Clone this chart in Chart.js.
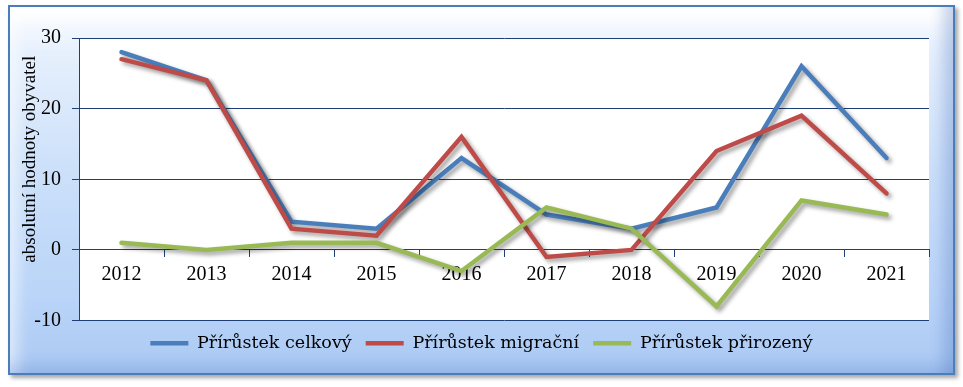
<!DOCTYPE html>
<html>
<head>
<meta charset="utf-8">
<script src="https://cdn.jsdelivr.net/npm/chart.js@4.4.0/dist/chart.umd.min.js"></script>
<style>
  html, body { margin: 0; padding: 0; background: #ffffff; }
  #wrap { position: relative; width: 963px; height: 387px; overflow: hidden; }
  #frame {
    position: absolute; left: 8px; top: 5px; width: 943px; height: 366px;
    border: 2px solid #4A7EBB;
    background: linear-gradient(180deg, #FFFFFF 0%, #E6F0FD 12%, #CCE0FA 45%, #B9D4F8 80%, #ABC9F3 100%);
    box-shadow: 3px 3px 4px rgba(0,0,0,0.35),
                inset -22px 0 14px -12px rgba(70,110,190,0.30),
                inset 0 -20px 14px -12px rgba(70,110,190,0.22),
                inset 20px 0 14px -12px rgba(255,255,255,0.55),
                inset 0 22px 14px -12px rgba(255,255,255,0.7);
  }
  canvas { position: absolute; left: 0; top: 0; }
</style>
</head>
<body>
<div id="wrap">
  <div id="frame"></div>
  <canvas id="c" width="963" height="387"></canvas>
</div>
<script>
const categories = ['2012','2013','2014','2015','2016','2017','2018','2019','2020','2021'];
const celkovy   = [28, 24, 4, 3, 13, 5, 3, 6, 26, 13];
const migracni  = [27, 24, 3, 2, 16, -1, 0, 14, 19, 8];
const prirozeny = [1, 0, 1, 1, -3, 6, 3, -8, 7, 5];
const seriesNames = ['Přírůstek celkový', 'Přírůstek migrační', 'Přírůstek přirozený'];
const yTitle = 'absolutní hodnoty obyvatel';
const yMin = -10, yMax = 30, yStep = 10;

const colors = ['#4A7EBB', '#BE4B48', '#98B954'];
const gridColor = '#1F3F78';

const whiteArea = {
  id: 'whiteArea',
  beforeDraw(chart) {
    const {ctx, chartArea: a} = chart;
    ctx.save();
    ctx.fillStyle = '#ffffff';
    ctx.fillRect(a.left, a.top, a.right - a.left, a.bottom - a.top);
    ctx.restore();
  }
};
const shadow = {
  id: 'shadow',
  beforeDatasetDraw(chart) {
    const ctx = chart.ctx;
    ctx.save();
    ctx.shadowColor = 'rgba(0,0,0,0.38)';
    ctx.shadowBlur = 4;
    ctx.shadowOffsetX = 3;
    ctx.shadowOffsetY = 3;
  },
  afterDatasetDraw(chart) { chart.ctx.restore(); }
};

function ds(label, data, color, order) {
  return {
    label, data, borderColor: color, backgroundColor: color,
    borderWidth: 4.5, pointRadius: 0, pointHoverRadius: 0, tension: 0,
    borderCapStyle: 'round', borderJoinStyle: 'miter', order
  };
}

new Chart(document.getElementById('c'), {
  type: 'line',
  data: {
    labels: categories,
    datasets: [
      ds(seriesNames[0], celkovy, colors[0], 3),
      ds(seriesNames[1], migracni, colors[1], 2),
      ds(seriesNames[2], prirozeny, colors[2], 1)
    ]
  },
  options: {
    responsive: false,
    animation: false,
    events: [],
    layout: { padding: { left: 0, right: 0, top: 38, bottom: 25 } },
    scales: {
      x: {
        type: 'category',
        position: { y: 0 },
        offset: true,
        grid: { display: true, drawOnChartArea: false, drawTicks: true, tickLength: 7, color: gridColor, offset: true },
        border: { display: true, color: gridColor, width: 1 },
        ticks: { color: '#000', padding: 6, maxRotation: 0, font: { family: 'Liberation Serif', size: 20 } }
      },
      y: {
        min: yMin, max: yMax,
        afterFit(scale) {
          scale.width = 79;
          if (!scale._titleShifted) {
            const orig = scale.drawTitle;
            scale.drawTitle = function () {
              const ctx = this.ctx;
              ctx.save();
              ctx.translate(0, -20);
              orig.apply(this, arguments);
              ctx.restore();
            };
            scale._titleShifted = true;
          }
        },
        ticks: { stepSize: yStep, color: '#000', padding: 11, font: { family: 'Liberation Serif', size: 20 } },
        grid: { color: gridColor, tickLength: 7, lineWidth: 1 },
        border: { display: true, color: gridColor, width: 1 },
        title: { display: true, text: yTitle, color: '#000', padding: { top: 19, bottom: 0 }, font: { family: 'Liberation Serif', size: 19 } }
      },
      yRightSpace: {
        type: 'linear',
        position: 'right',
        display: true,
        min: yMin, max: yMax,
        afterFit(scale) { scale.width = 34; },
        ticks: { display: false },
        grid: { display: false, drawTicks: false },
        border: { display: false }
      }
    },
    plugins: {
      legend: {
        position: 'bottom',
        labels: {
          usePointStyle: true,
          pointStyle: 'line',
          pointStyleWidth: 38,
          boxHeight: 4,
          padding: 14,
          color: '#000',
          font: { family: 'DejaVu Serif', size: 17.5 },
          sort: (a, b) => a.datasetIndex - b.datasetIndex
        }
      },
      tooltip: { enabled: false }
    }
  },
  plugins: [whiteArea, shadow]
});
</script>
</body>
</html>
